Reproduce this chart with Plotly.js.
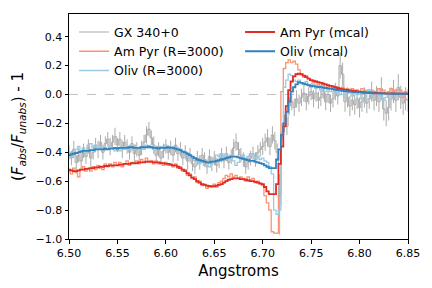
<!DOCTYPE html>
<html>
<head>
<meta charset="utf-8">
<script src="https://cdn.plot.ly/plotly-3.0.1.min.js"></script>
<style>html,body{margin:0;padding:0;background:#fff;}#chart{width:432px;height:288px;}</style>
</head>
<body>
<div id="chart"></div>
<script>
// Wavelength grid (Angstroms)
const wavelength = [
6.5000,6.5025,6.5050,6.5075,6.5100,6.5125,6.5150,6.5175,6.5200,6.5225,6.5250,6.5275,
6.5300,6.5325,6.5350,6.5375,6.5400,6.5425,6.5450,6.5475,6.5500,6.5525,6.5550,6.5575,
6.5600,6.5625,6.5650,6.5675,6.5700,6.5725,6.5750,6.5775,6.5800,6.5825,6.5850,6.5875,
6.5900,6.5925,6.5950,6.5975,6.6000,6.6025,6.6050,6.6075,6.6100,6.6125,6.6150,6.6175,
6.6200,6.6225,6.6250,6.6275,6.6300,6.6325,6.6350,6.6375,6.6400,6.6425,6.6450,6.6475,
6.6500,6.6525,6.6550,6.6575,6.6600,6.6625,6.6650,6.6675,6.6700,6.6725,6.6750,6.6775,
6.6800,6.6825,6.6850,6.6875,6.6900,6.6925,6.6950,6.6975,6.7000,6.7025,6.7050,6.7075,
6.7100,6.7125,6.7150,6.7175,6.7200,6.7225,6.7250,6.7275,6.7300,6.7325,6.7350,6.7375,
6.7400,6.7425,6.7450,6.7475,6.7500,6.7525,6.7550,6.7575,6.7600,6.7625,6.7650,6.7675,
6.7700,6.7725,6.7750,6.7775,6.7800,6.7825,6.7850,6.7875,6.7900,6.7925,6.7950,6.7975,
6.8000,6.8025,6.8050,6.8075,6.8100,6.8125,6.8150,6.8175,6.8200,6.8225,6.8250,6.8275,
6.8300,6.8325,6.8350,6.8375,6.8400,6.8425,6.8450,6.8475,6.8500];

// GX 340+0 observed (F_abs/F_unabs) - 1
const gx340 = [
-0.40,-0.44,-0.38,-0.47, -0.42,-0.46,-0.39,-0.43, -0.36,-0.44,-0.40,-0.35,
-0.38,-0.33,-0.40,-0.34, -0.31,-0.36,-0.33,-0.29, -0.35,-0.31,-0.38,-0.33,
-0.36,-0.40,-0.34,-0.41, -0.38,-0.42,-0.37,-0.33, -0.28,-0.24,-0.30,-0.35,
-0.42,-0.38,-0.44,-0.39, -0.36,-0.40,-0.37,-0.42, -0.35,-0.41,-0.38,-0.44,
-0.40,-0.46,-0.42,-0.48, -0.50,-0.44,-0.47,-0.42, -0.45,-0.50,-0.43,-0.48,
-0.44,-0.49,-0.46,-0.42, -0.46,-0.41,-0.47,-0.43, -0.37,-0.33,-0.38,-0.42,
-0.45,-0.50,-0.47,-0.44, -0.41,-0.45,-0.40,-0.38, -0.36,-0.33,-0.30,-0.36,
-0.28,-0.32,-0.40,-0.76, -0.26,-0.20,-0.22,-0.08, -0.05,-0.09,-0.03,-0.06,
-0.02,0.01,-0.05,-0.01, 0.02,-0.03,0.01,-0.04, -0.02,0.03,-0.05,0.00,
-0.06,-0.03,0.02,-0.01, 0.20,0.14,-0.05,-0.02, -0.08,-0.04,-0.07,-0.03,
-0.09,-0.05,-0.02,-0.06, -0.03,0.02,-0.04,-0.01, -0.05,0.04,-0.10,-0.13,
-0.09,-0.03,0.02,-0.04, 0.05,-0.02,-0.06,-0.03, -0.04];
const gx340Err = [
0.05,0.05,0.06,0.05, 0.05,0.06,0.05,0.05, 0.05,0.06,0.05,0.05,
0.06,0.05,0.05,0.05, 0.05,0.06,0.05,0.06, 0.05,0.05,0.06,0.05,
0.05,0.05,0.05,0.06, 0.05,0.05,0.05,0.05, 0.06,0.05,0.05,0.06,
0.05,0.05,0.05,0.05, 0.05,0.05,0.05,0.05, 0.05,0.05,0.05,0.05,
0.05,0.06,0.05,0.05, 0.05,0.05,0.05,0.05, 0.05,0.05,0.05,0.05,
0.05,0.05,0.05,0.05, 0.05,0.05,0.05,0.05, 0.06,0.06,0.05,0.05,
0.05,0.05,0.05,0.05, 0.05,0.05,0.05,0.05, 0.06,0.06,0.06,0.06,
0.06,0.06,0.06,0.21, 0.06,0.06,0.06,0.06, 0.06,0.06,0.06,0.06,
0.06,0.06,0.06,0.06, 0.06,0.06,0.06,0.06, 0.06,0.06,0.06,0.06,
0.06,0.06,0.06,0.06, 0.09,0.08,0.07,0.07, 0.07,0.07,0.07,0.07,
0.07,0.07,0.07,0.07, 0.07,0.07,0.07,0.07, 0.07,0.08,0.08,0.09,
0.09,0.08,0.08,0.08, 0.09,0.08,0.08,0.08, 0.08];

// Amorphous pyroxene model, R=3000
const amPyrR3000 = [
-0.53,-0.55,-0.51,-0.54, -0.57,-0.52,-0.50,-0.53, -0.51,-0.53,-0.50,-0.52,
-0.49,-0.51,-0.52,-0.48, -0.50,-0.48,-0.50,-0.47, -0.49,-0.47,-0.50,-0.48,
-0.46,-0.49,-0.47,-0.48, -0.46,-0.48,-0.45,-0.47, -0.44,-0.47,-0.46,-0.48,
-0.46,-0.48,-0.47,-0.49, -0.47,-0.49,-0.48,-0.50, -0.48,-0.51,-0.50,-0.53,
-0.52,-0.56,-0.55,-0.58, -0.57,-0.61,-0.60,-0.63, -0.62,-0.65,-0.63,-0.64,
-0.62,-0.64,-0.61,-0.60, -0.58,-0.56,-0.57,-0.55, -0.57,-0.56,-0.58,-0.57,
-0.58,-0.60,-0.57,-0.59, -0.58,-0.61,-0.60,-0.62, -0.63,-0.70,-0.75,-0.80,
-0.95,-0.96,-0.96,-0.70, 0.02,0.18,0.22,0.24, 0.22,0.23,0.21,0.17,
0.14,0.12,0.13,0.11, 0.10,0.08,0.09,0.07, 0.06,0.07,0.05,0.06,
0.04,0.06,0.03,0.05, 0.03,0.05,0.02,0.04, 0.02,0.04,0.01,0.03,
0.02,0.04,0.01,0.03, 0.01,0.03,0.00,0.02, 0.04,0.01,0.03,0.00,
0.02,0.04,-0.01,0.03, 0.01,0.03,-0.02,0.02, 0.01];

// Olivine model, R=3000
const olivR3000 = [
-0.40,-0.43,-0.41,-0.38, -0.36,-0.39,-0.37,-0.40, -0.35,-0.34,-0.37,-0.35,
-0.38,-0.36,-0.39,-0.37, -0.38,-0.36,-0.37,-0.39, -0.37,-0.39,-0.36,-0.38,
-0.36,-0.38,-0.37,-0.35, -0.37,-0.38,-0.36,-0.38, -0.35,-0.37,-0.36,-0.38,
-0.36,-0.38,-0.36,-0.37, -0.35,-0.37,-0.38,-0.36, -0.37,-0.39,-0.38,-0.40,
-0.41,-0.42,-0.44,-0.43, -0.46,-0.45,-0.48,-0.47, -0.49,-0.47,-0.50,-0.46,
-0.44,-0.42,-0.43,-0.41, -0.43,-0.41,-0.44,-0.42, -0.46,-0.49,-0.47,-0.44,
-0.42,-0.44,-0.43,-0.41, -0.42,-0.44,-0.43,-0.45, -0.44,-0.46,-0.47,-0.50,
-0.55,-0.80,-0.83,-0.80, -0.30,0.05,0.10,0.14, 0.13,0.10,0.09,0.10,
0.08,0.07,0.09,0.06, 0.05,0.07,0.04,0.06, 0.03,0.05,0.02,0.04,
0.02,0.04,0.01,0.03, 0.00,0.03,-0.02,0.02, 0.01,-0.01,0.03,0.00,
0.02,-0.03,-0.05,0.01, 0.03,0.00,-0.02,0.01, -0.01,0.02,-0.04,-0.02,
0.00,-0.03,0.01,-0.01, 0.02,-0.01,0.01,0.00, 0.00];

// Amorphous pyroxene model (mcal)
const amPyrMcal = [
-0.52,-0.525,-0.53,-0.53, -0.525,-0.52,-0.52,-0.515, -0.515,-0.51,-0.51,-0.505,
-0.505,-0.50,-0.50,-0.495, -0.495,-0.49,-0.49,-0.49, -0.49,-0.485,-0.485,-0.48,
-0.48,-0.48,-0.475,-0.475, -0.475,-0.47,-0.47,-0.47, -0.465,-0.465,-0.465,-0.47,
-0.47,-0.47,-0.475,-0.475, -0.48,-0.48,-0.485,-0.49, -0.49,-0.50,-0.51,-0.52,
-0.53,-0.545,-0.56,-0.575, -0.585,-0.60,-0.61,-0.62, -0.625,-0.63,-0.635,-0.635,
-0.635,-0.63,-0.625,-0.62, -0.61,-0.60,-0.59,-0.585, -0.58,-0.58,-0.58,-0.585,
-0.585,-0.59,-0.595,-0.60, -0.60,-0.605,-0.61,-0.615, -0.62,-0.64,-0.67,-0.69,
-0.69,-0.69,-0.62,-0.48, -0.36,-0.22,-0.08,0.03, 0.09,0.125,0.14,0.145,
0.14,0.13,0.12,0.11, 0.10,0.095,0.09,0.085, 0.08,0.075,0.07,0.065,
0.06,0.055,0.05,0.045, 0.04,0.037,0.034,0.031, 0.028,0.026,0.024,0.022,
0.02,0.018,0.016,0.015, 0.014,0.013,0.012,0.011, 0.01,0.009,0.009,0.008,
0.008,0.007,0.007,0.006, 0.006,0.006,0.005,0.005, 0.005];

// Olivine model (mcal)
const olivMcal = [
-0.42,-0.415,-0.41,-0.405, -0.40,-0.395,-0.39,-0.39, -0.39,-0.385,-0.385,-0.38,
-0.38,-0.38,-0.38,-0.375, -0.38,-0.375,-0.375,-0.37, -0.375,-0.37,-0.37,-0.37,
-0.37,-0.365,-0.365,-0.37, -0.37,-0.37,-0.365,-0.365, -0.365,-0.36,-0.365,-0.37,
-0.37,-0.375,-0.37,-0.37, -0.37,-0.365,-0.37,-0.37, -0.375,-0.38,-0.385,-0.395,
-0.40,-0.41,-0.42,-0.43, -0.44,-0.45,-0.455,-0.46, -0.465,-0.47,-0.47,-0.465,
-0.465,-0.46,-0.455,-0.45, -0.445,-0.44,-0.435,-0.43, -0.43,-0.43,-0.435,-0.44,
-0.445,-0.45,-0.455,-0.46, -0.46,-0.465,-0.47,-0.475, -0.48,-0.49,-0.50,-0.51,
-0.51,-0.51,-0.45,-0.38, -0.28,-0.20,-0.12,-0.05, 0.02,0.05,0.07,0.085,
0.08,0.075,0.07,0.065, 0.06,0.058,0.055,0.052, 0.05,0.048,0.045,0.042,
0.04,0.037,0.034,0.031, 0.028,0.026,0.024,0.022, 0.02,0.018,0.017,0.016,
0.015,0.013,0.012,0.011, 0.01,0.009,0.008,0.008, 0.008,0.007,0.007,0.006,
0.006,0.006,0.005,0.005, 0.005,0.005,0.005,0.005, 0.005];

const xTicks = [6.50, 6.55, 6.60, 6.65, 6.70, 6.75, 6.80, 6.85];
const yTicks = [-1.0, -0.8, -0.6, -0.4, -0.2, 0.0, 0.2, 0.4];

const traces = [
  {x: wavelength, y: gx340, name: 'GX 340+0', type: 'scatter', mode: 'lines',
   line: {shape: 'hvh', color: '#ababab', width: 1},
   error_y: {type: 'data', array: gx340Err, visible: true, color: '#ababab', thickness: 1, width: 0},
   legendrank: 1},
  {x: wavelength, y: amPyrR3000, name: 'Am Pyr (R=3000)', type: 'scatter', mode: 'lines',
   line: {shape: 'hvh', color: '#fc9272', width: 1.3}, legendrank: 3},
  {x: wavelength, y: olivR3000, name: 'Oliv (R=3000)', type: 'scatter', mode: 'lines',
   line: {shape: 'hvh', color: '#9ecae1', width: 1.3}, legendrank: 5},
  {x: wavelength, y: amPyrMcal, name: 'Am Pyr (mcal)', type: 'scatter', mode: 'lines',
   line: {shape: 'hvh', color: '#de2d26', width: 1.8}, legendrank: 2},
  {x: wavelength, y: olivMcal, name: 'Oliv (mcal)', type: 'scatter', mode: 'lines',
   line: {shape: 'hvh', color: '#3182bd', width: 1.8}, legendrank: 4}
];

const layout = {
  width: 432, height: 288,
  margin: {l: 69, r: 24, t: 14, b: 49},
  paper_bgcolor: '#ffffff', plot_bgcolor: '#ffffff',
  font: {family: 'DejaVu Sans, sans-serif', size: 11, color: '#000'},
  showlegend: true,
  legend: {orientation: 'h', x: 0.015, y: 0.985, xanchor: 'left', yanchor: 'top',
           entrywidth: 121, entrywidthmode: 'pixels', bgcolor: 'rgba(255,255,255,0)',
           font: {size: 12.5}, traceorder: 'normal', tracegroupgap: 0},
  xaxis: {range: [6.50, 6.85], tickvals: xTicks, tickformat: '.2f', ticks: 'outside', ticklen: 3.5,
          tickcolor: '#000', showline: true, linecolor: '#000', linewidth: 1, mirror: true,
          showgrid: false, zeroline: false, tickfont: {size: 11},
          title: {text: 'Angstroms', font: {size: 15}, standoff: 6}},
  yaxis: {range: [-1.0, 0.557], tickvals: yTicks, tickformat: '.1f', ticks: 'outside', ticklen: 3.5,
          tickcolor: '#000', showline: true, linecolor: '#000', linewidth: 1, mirror: true,
          showgrid: false, zeroline: false, tickfont: {size: 11},
          title: {text: '(<i>F<sub>abs</sub></i>/<i>F<sub>unabs</sub></i>) - 1', font: {size: 15}, standoff: 8}},
  shapes: [{type: 'line', xref: 'paper', x0: 0, x1: 1, yref: 'y', y0: 0, y1: 0,
            line: {color: '#999', width: 0.6, dash: 'dash'}, layer: 'below'}]
};

Plotly.newPlot('chart', traces, layout, {displayModeBar: false, staticPlot: true});
</script>
</body>
</html>
